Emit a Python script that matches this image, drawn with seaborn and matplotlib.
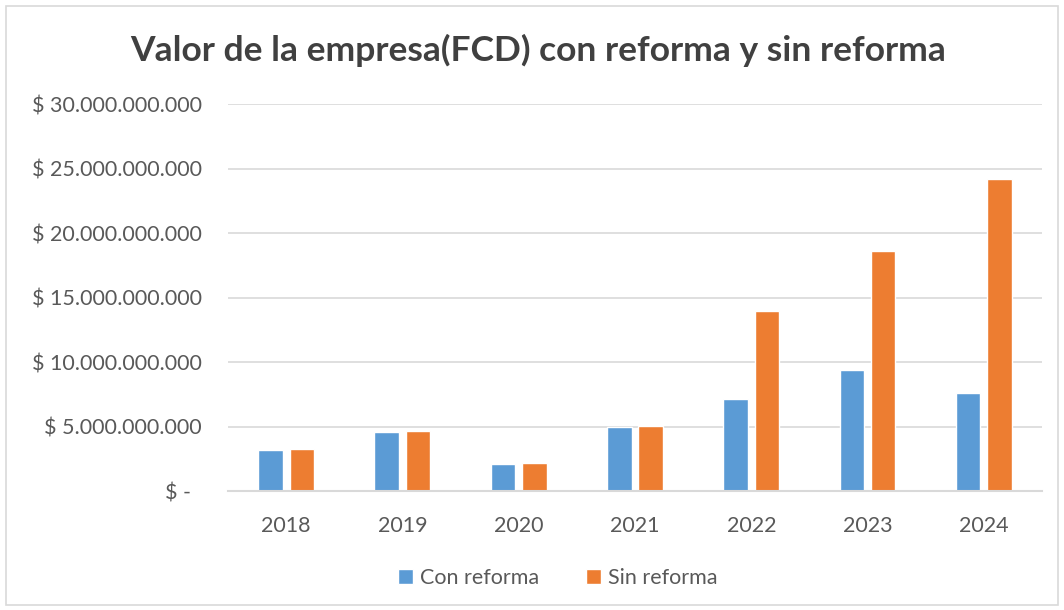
import matplotlib
matplotlib.use('Agg')
import matplotlib.pyplot as plt
import matplotlib.ticker as mticker
from matplotlib.patches import Rectangle
import pandas as pd
import seaborn as sns

# Data
years = ["2018", "2019", "2020", "2021", "2022", "2023", "2024"]
con_reforma = [3.22e9, 4.61e9, 2.12e9, 5.00e9, 7.16e9, 9.41e9, 7.63e9]
sin_reforma = [3.27e9, 4.66e9, 2.20e9, 5.08e9, 13.98e9, 18.58e9, 24.16e9]
series_names = ["Con reforma", "Sin reforma"]
y_ticks = [0, 5e9, 10e9, 15e9, 20e9, 25e9, 30e9]

df = pd.DataFrame({
    "year": years * 2,
    "value": con_reforma + sin_reforma,
    "serie": [series_names[0]] * len(years) + [series_names[1]] * len(years),
})

sns.set_theme(style="white")
plt.rcParams['font.family'] = ['Lato', 'DejaVu Sans']

text_gray = "#595959"
grid_gray = "#D9D9D9"

fig = plt.figure(figsize=(10.64, 6.1), dpi=100)
ax = fig.add_axes([0.2143, 0.195, 0.765, 0.6345])

sns.barplot(data=df, x="year", y="value", hue="serie", ax=ax,
            palette=["#5B9BD5", "#ED7D31"], width=0.54, gap=0.22,
            saturation=1, legend=True)

ax.set_ylim(0, 30e9)
ax.set_yticks(y_ticks)


def fmt(v, pos):
    if v == 0:
        return "$ -  "
    return "$ " + f"{int(v):,}".replace(",", ".")


ax.yaxis.set_major_formatter(mticker.FuncFormatter(fmt))
ax.yaxis.grid(True, color=grid_gray, linewidth=1.2)
ax.set_axisbelow(True)
for side in ["left", "right", "top"]:
    ax.spines[side].set_visible(False)
ax.spines["bottom"].set_color(grid_gray)
ax.spines["bottom"].set_linewidth(1.5)
ax.tick_params(axis="both", length=0, labelsize=15.5, labelcolor=text_gray)
ax.tick_params(axis="y", pad=19)
ax.tick_params(axis="x", pad=18)
ax.set_xlabel("")
ax.set_ylabel("")

fig.suptitle("Valor de la empresa(FCD) con reforma y sin reforma",
             x=0.506, y=0.945, fontsize=25.5, fontweight="bold", color="#404040")

leg = ax.legend(loc="upper center", bbox_to_anchor=(0.405, -0.15), ncol=2,
                frameon=False, fontsize=15.5, handlelength=0.7, handleheight=0.7,
                handletextpad=0.3, columnspacing=2.2)
for t in leg.get_texts():
    t.set_color(text_gray)

fig.patches.append(Rectangle((0.006, 0.008), 0.988, 0.982, transform=fig.transFigure,
                             fill=False, edgecolor=grid_gray, linewidth=1.2))

fig.savefig("out.png", dpi=100)
